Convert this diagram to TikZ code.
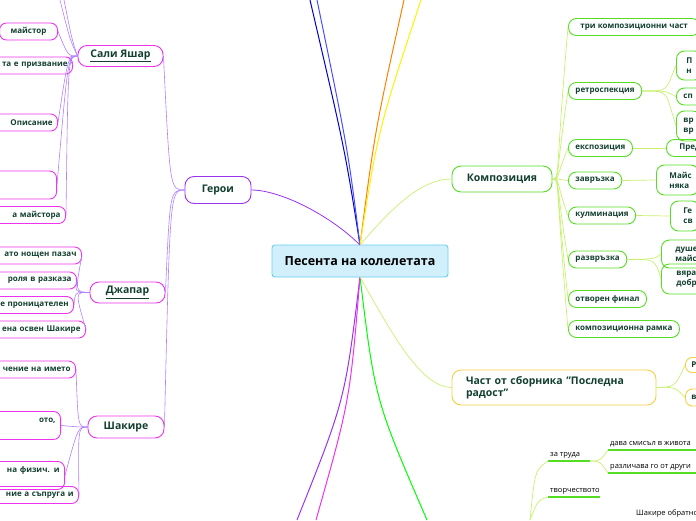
\documentclass[tikz,border=0pt]{standalone}
\usepackage{fontspec}
\setmainfont{Open Sans}
\definecolor{txt}{HTML}{123F2E}
\definecolor{purp}{HTML}{9933EE}
\definecolor{lpurp}{HTML}{B080FF}
\definecolor{mag}{HTML}{EE33EE}
\definecolor{grn}{HTML}{55DD22}
\definecolor{lgrn}{HTML}{C8F070}
\definecolor{ylw}{HTML}{F5D040}
\begin{document}
\begin{tikzpicture}[x=1pt,y=-1pt,
  every node/.style={text=txt,font=\bfseries\fontsize{8}{10}\selectfont,inner sep=0pt,align=left},
  leafL/.style={draw=mag,line width=0.9pt,rounded corners=7pt,anchor=east,minimum height=17pt,align=right,inner xsep=5pt,text width=100pt},
  leafR/.style={draw=grn,line width=0.9pt,rounded corners=8pt,anchor=west,minimum height=17pt,inner xsep=7pt},
  topic/.style={line width=0.9pt,rounded corners=9pt,minimum height=22pt,font=\bfseries\fontsize{10.5}{12.5}\selectfont},
  lp/.style={lpurp,line width=0.6pt},
  lg/.style={lgrn,line width=0.7pt},
  ul/.style={grn,line width=1.4pt}]
\useasboundingbox (0,0) rectangle (696,520);
% root lines
\coordinate (rt) at (360,245);
\coordinate (rb) at (360,277);
\draw[blue!80!black,line width=1pt] (rt) .. controls (345,150) .. (310,0);
\draw[blue!70,line width=1pt] (rt) .. controls (348,150) .. (317,0);
\draw[orange,line width=1pt] (rt) .. controls (375,130) .. (404,0);
\draw[yellow,line width=1pt] (rt) .. controls (378,130) .. (421,0);
\draw[green,line width=1pt] (rb) .. controls (375,400) .. (427,520);
\draw[purp,line width=1pt] (rb) .. controls (345,400) .. (297,520);
\draw[mag,line width=1pt] (rb) .. controls (350,400) .. (316,520);

\node[draw=cyan!60,fill=cyan!18,line width=0.9pt,rounded corners=3pt,minimum width=176pt,minimum height=32pt,font=\bfseries\fontsize{12.5}{14}\selectfont,text=black] (root) at (360,261) {Песента на колелетата};

% Heroes
\node[topic,draw=purp,minimum width=66pt,minimum height=27pt] (her) at (218,190) {Герои};
\draw[purp,line width=0.8pt] (rt) .. controls (330,215) and (280,190) .. (her.east);
\node[topic,draw=mag,minimum width=85pt,minimum height=21pt] (sali) at (120.5,56) {\underline{Сали Яшар}};
\node[topic,draw=mag,minimum width=75pt,minimum height=21pt] (dj) at (127.5,292.5) {\underline{Джапар}};
\node[topic,draw=mag,minimum width=76pt,minimum height=22pt] (sh) at (126,427) {Шакире};
\foreach \n in {sali,dj,sh}{\draw[lp] (her.west) .. controls (170,190) and (170,190) .. (\n.east);}

\node[leafL,text width=48pt,align=center] (s1) at (58,31.5) {майстор};
\node[leafL] (s2) at (73,65.5) {та е призвание};
\node[leafL] (s3) at (58,122.5) {Описание};
\node[leafL,minimum height=28pt] (s4) at (57,185) {};
\node[leafL] (s5) at (66,215) {а майстора};
\foreach \n in {s1,s2,s3,s4,s5}{\draw[lp] (sali.west) .. controls (68,56) and (68,56) .. (\n.east);}
\coordinate (u1) at (60,0); \coordinate (u2) at (64,0);
\draw[lp] (sali.west) .. controls (70,40) .. (u1);
\draw[lp] (sali.west) .. controls (72,40) .. (u2);

\node[leafL] (d1) at (82,255.5) {ато нощен пазач};
\node[leafL] (d2) at (77,280.5) {роля в разказа};
\node[leafL] (d3) at (74,305) {е проницателен};
\node[leafL] (d4) at (86,329.5) {ена освен Шакире};
\foreach \n in {d1,d2,d3,d4}{\draw[lp] (dj.west) .. controls (75,292) and (75,292) .. (\n.east);}

\node[leafL] (k1) at (76,369.5) {чение на името};
\node[leafL,minimum height=28pt,anchor=north east,align=right] (k2) at (61,411) {ото,\\[1pt]~};
\node[leafL,minimum height=28pt,anchor=north east,align=right] (k3) at (65,461) {на физич. и\\[1pt]~};
\node[leafL] (k4) at (79,495) {ние а съпруга и};
\foreach \n in {k1,k2,k3,k4}{\draw[lp] (sh.west) .. controls (78,427) and (78,427) .. (\n.east);}

% Композиция
\node[topic,draw=grn,minimum width=100pt,minimum height=26pt] (komp) at (502,179) {Композиция};
\draw[lg] (rt) .. controls (390,210) and (420,179) .. (komp.west);
\node[leafR,inner xsep=12pt] (c1) at (568,27) {три композиционни част};
\node[leafR] (c2) at (568,91) {ретроспекция};
\node[leafR] (c3) at (568,148) {експозиция};
\node[leafR] (c4) at (568,180.5) {завръзка};
\node[leafR] (c5) at (568,215.5) {кулминация};
\node[leafR] (c6) at (568,259.5) {развръзка};
\node[leafR] (c7) at (568,299) {отворен финал};
\node[leafR] (c8) at (568,329) {композиционна рамка};
\foreach \n in {c1,c2,c3,c4,c5,c6,c7,c8}{\draw[lg] (komp.east) .. controls (560,179) and (555,179) .. (\n.west);}

\node[leafR,minimum height=29pt,inner xsep=10pt] (r1) at (676,65.5) {П\\н};
\node[leafR] (r2) at (676,96.5) {сп\hspace*{14pt}};
\node[leafR,minimum height=30pt] (r3) at (676,126) {вр\\вр};
\foreach \n in {r1,r2,r3}{\draw[lg] (c2.east) .. controls (670,91) and (665,91) .. (\n.west);}
\node[leafR] (e1) at (666,148) {\hspace*{6pt}Пред\hspace*{10pt}};
\draw[lg] (c3.east) -- (e1.west);
\node[leafR,minimum height=30pt] (z1) at (656,180) {\hspace*{6pt}Майс\\\hspace*{6pt}няка};
\draw[lg] (c4.east) -- (z1.west);
\node[leafR,minimum height=30pt] (ku1) at (670,216) {\hspace*{6pt}Ге\\\hspace*{6pt}св};
\draw[lg] (c5.east) -- (ku1.west);
\node[leafR,minimum height=28pt,minimum width=50pt] (v1) at (661,254) {душе\\майс};
\node[leafR,minimum height=30pt,minimum width=50pt] (v2) at (661,279) {вяра\\добр};
\draw[lg] (c6.east) .. controls (655,259) .. (v1.west);
\draw[lg] (c6.east) .. controls (655,259) .. (v2.west);

% Част от сборника
\node[topic,draw=ylw,minimum width=204pt,minimum height=35pt,inner xsep=14pt,text width=176pt] (ch) at (554,387.5) {Част от сборника \char34Последна радост\char34};
\draw[lg] (rb) .. controls (390,330) and (420,387) .. (ch.west);
\node[draw=ylw,line width=0.9pt,rounded corners=7pt,anchor=west,minimum height=15pt] (p1) at (685,365) {\hspace*{6pt}Р\hspace*{14pt}};
\node[draw=ylw,line width=0.9pt,rounded corners=7pt,anchor=west,minimum height=17pt] (p2) at (685,397.5) {\hspace*{6pt}в\hspace*{14pt}};
\draw[lg] (ch.east) .. controls (675,387) .. (p1.west);
\draw[lg] (ch.east) .. controls (675,387) .. (p2.west);

% bottom tree
\tikzset{plain/.style={font=\fontsize{7.5}{9}\selectfont,text=black,anchor=south west,inner xsep=2pt,inner ysep=3pt}}
\node[plain] (b1) at (548,461) {за труда};
\draw[ul] (b1.south west) -- ++(42,0) coordinate (b1e);
\node[plain] (b2) at (608,450) {дава смисъл в живота};
\draw[ul] (b2.south west) -- (696,450);
\node[plain] (b3) at (608,473) {различава го от други};
\draw[ul] (b3.south west) -- (696,473);
\draw[lg] (b1e) .. controls (600,461) .. (b2.south west);
\draw[lg] (b1e) .. controls (600,461) .. (b3.south west);
\node[plain] (b4) at (548,497) {творчеството};
\draw[ul] (b4.south west) -- ++(52,0);
\node[plain] (b5) at (634,520) {Шакире обратно};
\coordinate (bt) at (530,520);
\draw[lg] (bt) .. controls (535,470) .. (b1.south west);
\draw[lg] (bt) .. controls (538,500) .. (b4.south west);
\end{tikzpicture}
\end{document}
